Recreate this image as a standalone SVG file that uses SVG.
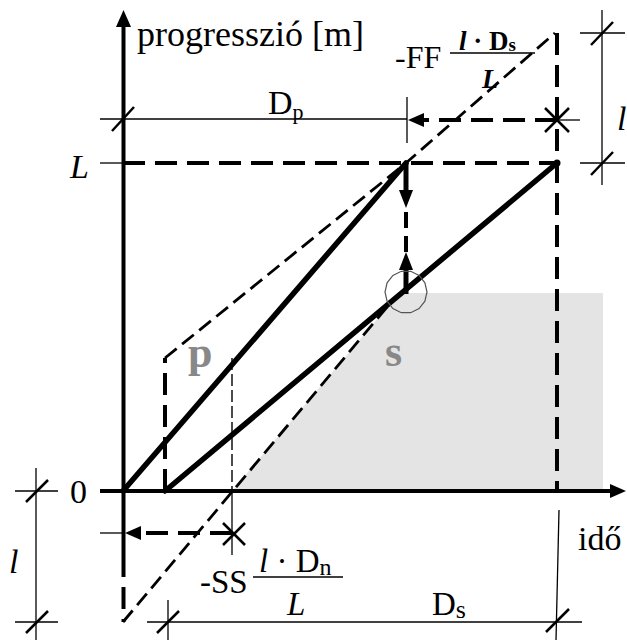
<svg xmlns="http://www.w3.org/2000/svg" width="627" height="640" viewBox="0 0 627 640">
<style>
.t{font-family:"Liberation Serif","Times New Roman",serif;fill:#000}
.i{font-style:italic}
.b{font-weight:bold}
.g{fill:#888;font-weight:bold}
.thin{stroke:#000;stroke-width:1.3;fill:none}
.ax{stroke:#000;stroke-width:4;fill:none}
.thick{stroke:#000;stroke-width:5.5;fill:none;stroke-linecap:round}
.hd{stroke:#000;stroke-width:4;fill:none;stroke-dasharray:22 10}
.dd{stroke:#000;stroke-width:2.8;fill:none;stroke-dasharray:15 7}
.td{stroke:#000;stroke-width:1.4;fill:none;stroke-dasharray:12 4}
.x{stroke:#000;stroke-width:2.5;fill:none}
</style>
<rect width="627" height="640" fill="#fff"/>
<g id="shade"><polygon points="232,491 399,293 603,293 603,491" fill="#e4e4e4"/></g>
<g id="connectors">
  <line class="thin" x1="100" y1="119" x2="407" y2="119"/>
  <line class="thin" x1="407" y1="97" x2="407" y2="143"/>
  <line class="x" x1="112" y1="131" x2="134" y2="107"/>
  <line class="thin" x1="100" y1="163" x2="123" y2="163"/>
  <line class="thin" x1="602" y1="10" x2="602" y2="185"/>
  <line class="thin" x1="580" y1="33" x2="625" y2="33"/>
  <line class="x" x1="591" y1="45" x2="613" y2="22"/>
  <line class="thin" x1="580" y1="163" x2="625" y2="163"/>
  <line class="x" x1="591" y1="175" x2="613" y2="152"/>
  <line class="thin" x1="36" y1="468" x2="36" y2="640"/>
  <line class="thin" x1="15" y1="491" x2="58" y2="491"/>
  <line class="x" x1="26" y1="502" x2="48" y2="480"/>
  <line class="thin" x1="15" y1="622" x2="58" y2="622"/>
  <line class="x" x1="26" y1="633" x2="48" y2="611"/>
  <line class="thin" x1="100" y1="533" x2="123" y2="533"/>
  <line class="thin" x1="147" y1="622" x2="582" y2="622"/>
  <line class="thin" x1="168" y1="600" x2="168" y2="640"/>
  <line class="x" x1="157" y1="633" x2="179" y2="611"/>
  <line class="thin" x1="559" y1="510" x2="556" y2="640"/>
  <line class="x" x1="546" y1="632" x2="569" y2="609"/>
  <line class="thin" x1="232" y1="491" x2="232" y2="555"/>
  <line class="td" x1="232" y1="358" x2="232" y2="491"/>
  <line class="ax" x1="123.5" y1="555" x2="123.5" y2="24"/>
  <polygon points="116,27 131,27 123.5,10" fill="#000"/>
  <line class="ax" x1="100" y1="491" x2="612" y2="491"/>
  <polygon points="610,484 610,498 626,491" fill="#000"/>
  <line class="hd" x1="123" y1="163" x2="557" y2="163"/>
  <line class="hd" x1="557" y1="33" x2="557" y2="491"/>
  <line class="hd" x1="165" y1="491" x2="165" y2="358"/>
  <line class="hd" x1="123.5" y1="555" x2="123.5" y2="622"/>
  <polyline class="dd" points="165,358 406,163 555,33"/>
  <line class="dd" x1="123" y1="622" x2="392" y2="301"/>
  <line class="thick" x1="123" y1="491" x2="406" y2="163"/>
  <line class="thick" x1="165" y1="491" x2="557" y2="163"/>
  <line class="hd" x1="557" y1="120" x2="422" y2="120"/>
  <polygon points="408,120 424,113 424,127" fill="#000"/>
  <line class="x" x1="545" y1="108" x2="569" y2="132"/>
  <line class="x" x1="545" y1="132" x2="569" y2="108"/>
  <line class="thin" x1="557" y1="120" x2="580" y2="120"/>
  <line class="hd" x1="232" y1="533" x2="139" y2="533"/>
  <polygon points="125,533 141,526 141,540" fill="#000"/>
  <line class="x" x1="223" y1="523" x2="245" y2="545"/>
  <line class="x" x1="223" y1="545" x2="245" y2="523"/>
  <line stroke="#000" stroke-width="5" x1="406" y1="163" x2="406" y2="192"/>
  <polygon points="399,190 413,190 406,208" fill="#000"/>
  <line stroke="#000" stroke-width="4" stroke-dasharray="16 8" x1="406" y1="212" x2="406" y2="256"/>
  <polygon points="399,270 413,270 406,252" fill="#000"/>
  <line stroke="#000" stroke-width="5" x1="406" y1="268" x2="406" y2="294"/>
  <polygon points="427,292 424.9,301.2 419.1,308.6 410.7,312.7 401.3,312.7 392.9,308.6 387.1,301.2 385,292 387.1,282.8 392.9,275.4 401.3,271.3 410.7,271.3 419.1,275.4 424.9,282.8" fill="none" stroke="#555" stroke-width="1.2"/>
  <circle cx="557" cy="163" r="3.5" fill="#000"/>
</g>
<g id="labels">
  <text class="t" x="137" y="46" font-size="36">progresszió [m]</text>
  <text class="t i" x="70" y="178" font-size="34">L</text>
  <text class="t" x="70" y="503" font-size="34">0</text>
  <text class="t i" x="9" y="573" font-size="34">l</text>
  <text class="t i" x="617" y="130" font-size="34">l</text>
  <text class="t" x="268" y="114" font-size="34">D<tspan font-size="22" dy="5">p</tspan></text>
  <text class="t" x="578" y="550" font-size="34">idő</text>
  <text class="t" x="432" y="615" font-size="33">D<tspan font-size="26" dy="3">s</tspan></text>
  <text class="t g" x="188" y="367" font-size="44">p</text>
  <text class="t g" x="385" y="366" font-size="44">s</text>
</g>
<g id="ff-label">
  <text class="t" x="395" y="68" font-size="32">-FF</text>
  <line class="thin" x1="450" y1="53" x2="535" y2="53"/>
  <text class="t b" x="459" y="50" font-size="27"><tspan class="i">l</tspan> · D<tspan font-size="19" dy="1">s</tspan></text>
  <text class="t b i" x="482" y="88" font-size="27">L</text>
</g>
<g id="ss-label">
  <text class="t" x="200" y="593" font-size="33">-SS</text>
  <line class="thin" x1="253" y1="577" x2="343" y2="577"/>
  <text class="t" x="259" y="572" font-size="33"><tspan class="i">l</tspan> · D<tspan font-size="24" dy="3">n</tspan></text>
  <text class="t i" x="287" y="615" font-size="33">L</text>
</g>
</svg>
